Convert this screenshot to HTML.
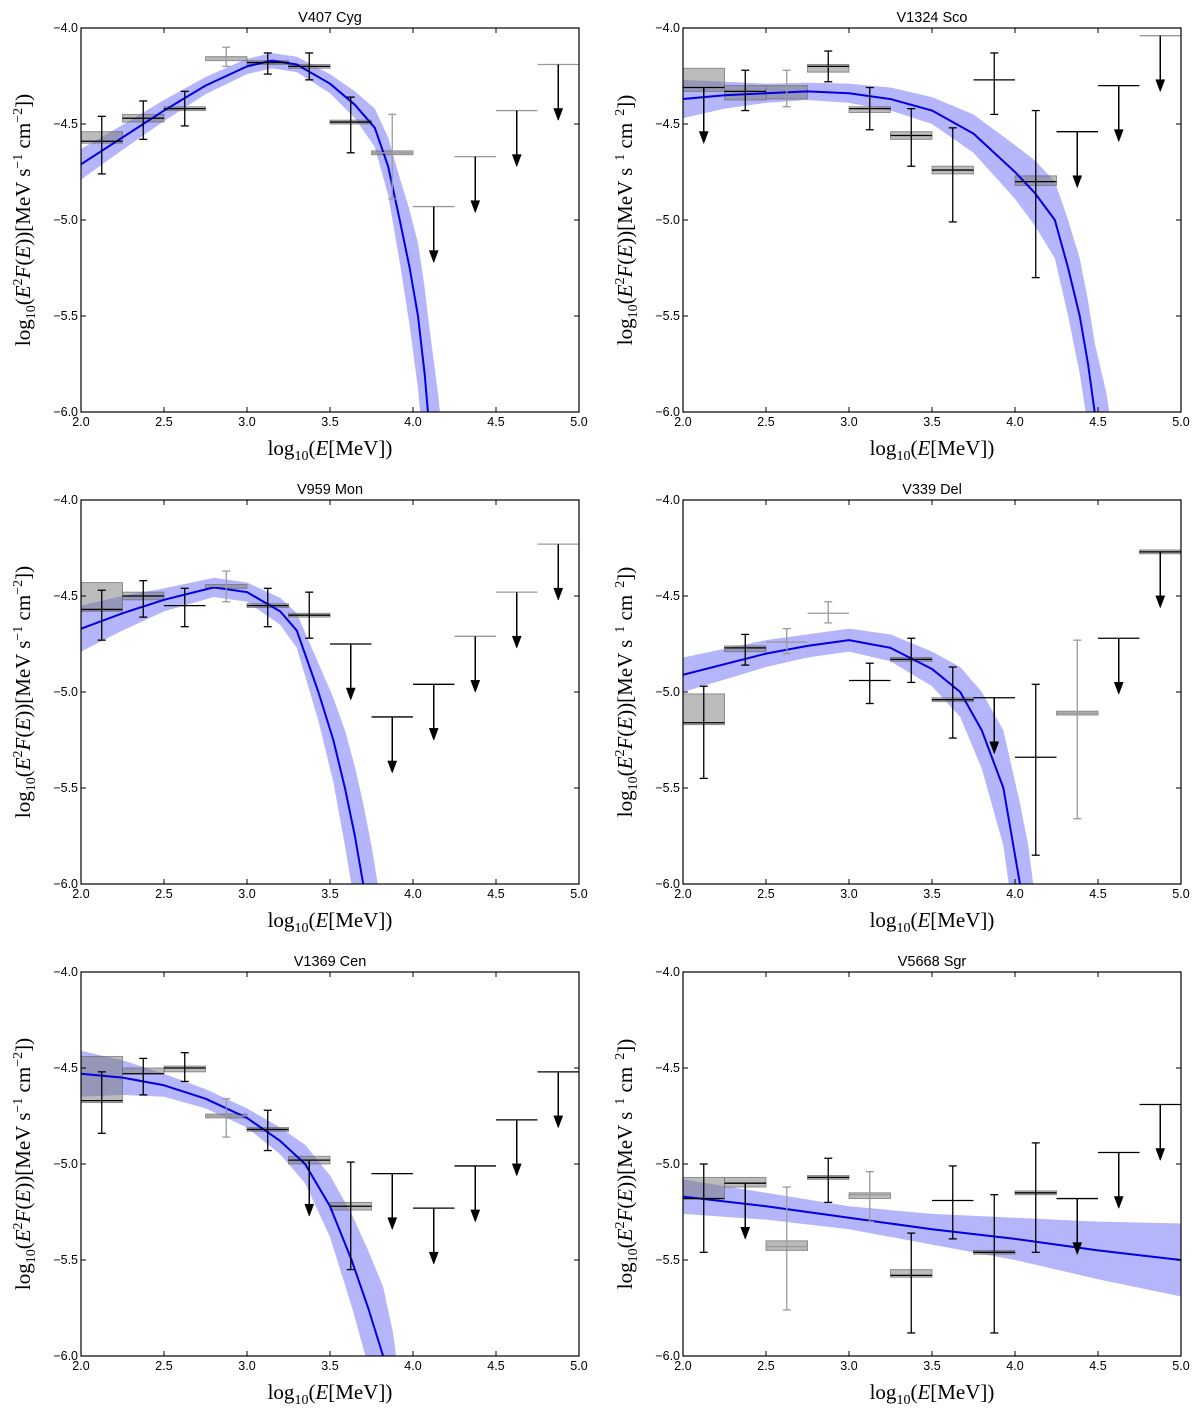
<!DOCTYPE html>
<html><head><meta charset="utf-8">
<style>
html,body{margin:0;padding:0;background:#fff;overflow:hidden;width:1200px;height:1418px;}
svg{display:block;}
.tick{font-family:"Liberation Sans",sans-serif;font-size:12.5px;fill:#000;}
.title{font-family:"Liberation Sans",sans-serif;font-size:14.5px;fill:#000;}
.lab{font-family:"Liberation Serif",serif;font-size:21px;fill:#000;}
</style></head>
<body>
<svg id="fig" width="1200" height="1418" viewBox="0 0 1200 1418" xmlns="http://www.w3.org/2000/svg"></svg>
<script>
// shared energy bins (log10 E)
const binLo = [2.0,2.25,2.5,2.75,3.0,3.25,3.5,3.75,4.0,4.25,4.5,4.75];
const binHi = [2.25,2.5,2.75,3.0,3.25,3.5,3.75,4.0,4.25,4.5,4.75,5.0];
const xTicks = ["2.0","2.5","3.0","3.5","4.0","4.5","5.0"];
const yTicks = ["-4.0","-4.5","-5.0","-5.5","-6.0"];
const titles = ["V407 Cyg","V1324 Sco","V959 Mon","V339 Del","V1369 Cen","V5668 Sgr"];

// Panel 1: V407 Cyg
const p1Y    = [-4.59,-4.47,-4.42,-4.15,-4.18,-4.20,-4.49,-4.65,-4.93,-4.67,-4.43,-4.19];
const p1ErrHi= [-4.46,-4.38,-4.33,-4.10,-4.13,-4.13,-4.36,-4.45,null,null,null,null];
const p1ErrLo= [-4.76,-4.58,-4.51,-4.20,-4.24,-4.27,-4.65,-4.89,null,null,null,null];
const p1BoxHi= [-4.54,-4.45,-4.41,-4.15,-4.17,-4.19,-4.48,-4.64,null,null,null,null];
const p1BoxLo= [-4.60,-4.49,-4.43,-4.17,-4.19,-4.21,-4.50,-4.66,null,null,null,null];
const p1UL   = [0,0,0,0,0,0,0,0,1,1,1,1];
const p1Gray = [0,0,0,1,0,0,0,1,1,1,1,1];
const p1CurveX=[2.0,2.25,2.5,2.75,3.0,3.15,3.3,3.5,3.65,3.77,3.85,3.92,3.98,4.03,4.07,4.09,4.15,4.25];
const p1CurveY=[-4.71,-4.57,-4.43,-4.30,-4.20,-4.17,-4.19,-4.29,-4.40,-4.52,-4.72,-5.0,-5.25,-5.5,-5.8,-6.0,-6.5,-7.5];
const p1Band =[0.08,0.065,0.055,0.045,0.04,0.04,0.04,0.05,0.07,0.1,0.15,0.22,0.3,0.38,0.45,0.5,0.6,0.8];

// Panel 2: V1324 Sco
const p2Y    = [-4.31,-4.33,-4.31,-4.20,-4.42,-4.56,-4.74,-4.27,-4.80,-4.54,-4.30,-4.04];
const p2ErrHi= [null,-4.22,-4.22,-4.12,-4.31,-4.42,-4.52,-4.13,-4.43,null,null,null];
const p2ErrLo= [null,-4.43,-4.41,-4.28,-4.53,-4.72,-5.01,-4.45,-5.30,null,null,null];
const p2BoxHi= [-4.21,-4.30,-4.30,-4.19,-4.41,-4.54,-4.72,null,-4.77,null,null,null];
const p2BoxLo= [-4.33,-4.375,-4.37,-4.23,-4.44,-4.58,-4.76,null,-4.82,null,null,null];
const p2UL   = [1,0,0,0,0,0,0,0,0,1,1,1];
const p2Gray = [0,0,1,0,0,0,0,0,0,0,0,1];
const p2CurveX=[2.0,2.25,2.5,2.75,3.0,3.25,3.5,3.75,4.0,4.12,4.24,4.32,4.39,4.44,4.48,4.55,4.7];
const p2CurveY=[-4.37,-4.35,-4.34,-4.33,-4.34,-4.37,-4.43,-4.55,-4.75,-4.86,-5.0,-5.25,-5.5,-5.75,-6.0,-6.3,-7.3];
const p2Band =[0.1,0.07,0.05,0.045,0.05,0.06,0.07,0.1,0.14,0.17,0.2,0.25,0.3,0.33,0.36,0.4,0.6];

// Panel 3: V959 Mon
const p3Y    = [-4.57,-4.50,-4.55,-4.45,-4.55,-4.60,-4.75,-5.13,-4.96,-4.71,-4.48,-4.23];
const p3ErrHi= [-4.47,-4.42,-4.46,-4.37,-4.46,-4.48,null,null,null,null,null,null];
const p3ErrLo= [-4.73,-4.61,-4.66,-4.53,-4.66,-4.72,null,null,null,null,null,null];
const p3BoxHi= [-4.43,-4.48,null,-4.44,-4.54,-4.59,null,null,null,null,null,null];
const p3BoxLo= [-4.58,-4.52,null,-4.46,-4.56,-4.61,null,null,null,null,null,null];
const p3UL   = [0,0,0,0,0,0,1,1,1,1,1,1];
const p3Gray = [0,0,0,1,0,0,0,0,0,1,1,1];
const p3CurveX=[2.0,2.25,2.5,2.8,3.0,3.2,3.3,3.43,3.52,3.59,3.65,3.7,3.75,3.9];
const p3CurveY=[-4.67,-4.59,-4.52,-4.455,-4.48,-4.58,-4.68,-5.0,-5.25,-5.5,-5.75,-6.0,-6.3,-7.3];
const p3Band =[0.12,0.09,0.06,0.05,0.05,0.07,0.09,0.15,0.22,0.3,0.36,0.42,0.5,0.7];

// Panel 4: V339 Del
const p4Y    = [-5.16,-4.77,-4.74,-4.59,-4.94,-4.83,-5.04,-5.03,-5.34,-5.11,-4.72,-4.27];
const p4ErrHi= [-4.97,-4.70,-4.67,-4.53,-4.85,-4.72,-4.87,null,-4.96,-4.73,null,null];
const p4ErrLo= [-5.45,-4.86,-4.80,-4.64,-5.06,-4.95,-5.24,null,-5.85,-5.66,null,null];
const p4BoxHi= [-5.01,-4.76,null,null,null,-4.82,-5.03,null,null,-5.10,null,-4.26];
const p4BoxLo= [-5.17,-4.79,null,null,null,-4.84,-5.05,null,null,-5.12,null,-4.28];
const p4UL   = [0,0,0,0,0,0,0,1,0,0,1,1];
const p4Gray = [0,0,1,1,0,0,0,0,0,1,0,0];
const p4CurveX=[2.0,2.5,2.75,3.0,3.25,3.5,3.67,3.8,3.93,3.98,4.03,4.08,4.2];
const p4CurveY=[-4.91,-4.80,-4.76,-4.73,-4.77,-4.88,-5.0,-5.2,-5.5,-5.75,-6.0,-6.3,-7.3];
const p4Band =[0.09,0.07,0.06,0.06,0.07,0.09,0.13,0.2,0.3,0.36,0.42,0.5,0.7];

// Panel 5: V1369 Cen
const p5Y    = [-4.67,-4.53,-4.50,-4.75,-4.82,-4.98,-5.22,-5.05,-5.23,-5.01,-4.77,-4.52];
const p5ErrHi= [-4.52,-4.45,-4.42,-4.66,-4.72,null,-4.99,null,null,null,null,null];
const p5ErrLo= [-4.84,-4.64,-4.57,-4.86,-4.93,null,-5.55,null,null,null,null,null];
const p5BoxHi= [-4.44,-4.50,-4.49,-4.74,-4.81,-4.96,-5.20,null,null,null,null,null];
const p5BoxLo= [-4.68,-4.53,-4.52,-4.76,-4.83,-5.00,-5.24,null,null,null,null,null];
const p5UL   = [0,0,0,0,0,1,0,1,1,1,1,1];
const p5Gray = [0,0,0,1,0,0,0,0,0,0,0,0];
const p5CurveX=[2.0,2.25,2.5,2.75,3.0,3.2,3.35,3.5,3.63,3.73,3.82,3.88,4.0];
const p5CurveY=[-4.53,-4.55,-4.59,-4.66,-4.76,-4.88,-5.0,-5.22,-5.5,-5.75,-6.0,-6.3,-7.3];
const p5Band =[0.12,0.09,0.06,0.05,0.05,0.07,0.1,0.16,0.24,0.3,0.36,0.42,0.6];

// Panel 6: V5668 Sgr
const p6Y    = [-5.18,-5.10,-5.43,-5.07,-5.16,-5.58,-5.19,-5.46,-5.15,-5.18,-4.94,-4.69];
const p6ErrHi= [-5.00,null,-5.12,-4.97,-5.04,-5.36,-5.01,-5.16,-4.89,null,null,null];
const p6ErrLo= [-5.46,null,-5.76,-5.20,-5.30,-5.88,-5.39,-5.88,-5.46,null,null,null];
const p6BoxHi= [-5.07,-5.07,-5.40,-5.06,-5.15,-5.55,null,-5.45,-5.14,null,null,null];
const p6BoxLo= [-5.18,-5.12,-5.45,-5.08,-5.18,-5.59,null,-5.47,-5.16,null,null,null];
const p6UL   = [0,1,0,0,0,0,0,0,0,1,1,1];
const p6Gray = [0,0,1,0,1,0,0,0,0,0,0,0];
const p6CurveX=[2.0,2.5,3.0,3.5,4.0,4.5,5.0];
const p6CurveY=[-5.17,-5.22,-5.28,-5.34,-5.39,-5.45,-5.50];
const p6Band =[0.09,0.07,0.06,0.08,0.11,0.15,0.19];

const panels = [
 {Y:p1Y,EH:p1ErrHi,EL:p1ErrLo,BH:p1BoxHi,BL:p1BoxLo,UL:p1UL,G:p1Gray,CX:p1CurveX,CY:p1CurveY,B:p1Band},
 {Y:p2Y,EH:p2ErrHi,EL:p2ErrLo,BH:p2BoxHi,BL:p2BoxLo,UL:p2UL,G:p2Gray,CX:p2CurveX,CY:p2CurveY,B:p2Band},
 {Y:p3Y,EH:p3ErrHi,EL:p3ErrLo,BH:p3BoxHi,BL:p3BoxLo,UL:p3UL,G:p3Gray,CX:p3CurveX,CY:p3CurveY,B:p3Band},
 {Y:p4Y,EH:p4ErrHi,EL:p4ErrLo,BH:p4BoxHi,BL:p4BoxLo,UL:p4UL,G:p4Gray,CX:p4CurveX,CY:p4CurveY,B:p4Band},
 {Y:p5Y,EH:p5ErrHi,EL:p5ErrLo,BH:p5BoxHi,BL:p5BoxLo,UL:p5UL,G:p5Gray,CX:p5CurveX,CY:p5CurveY,B:p5Band},
 {Y:p6Y,EH:p6ErrHi,EL:p6ErrLo,BH:p6BoxHi,BL:p6BoxLo,UL:p6UL,G:p6Gray,CX:p6CurveX,CY:p6CurveY,B:p6Band}
];

const NS="http://www.w3.org/2000/svg";
const svg=document.getElementById('fig');
function mk(tag,attrs,parent){const e=document.createElementNS(NS,tag);for(const k in attrs)e.setAttribute(k,attrs[k]);(parent||svg).appendChild(e);return e;}

const colX=[81,683], rowY=[28,500,972], W=498, H=384;
panels.forEach((p,i)=>{
  const x0=colX[i%2], y0=rowY[Math.floor(i/2)];
  const sx=v=>x0+(v-2)/3*W;
  const sy=v=>y0+(-4-v)/2*H;
  const g=mk('g',{});
  
  
  const cid='clip'+i;
  const cp=mk('clipPath',{id:cid},g); mk('rect',{x:x0,y:y0,width:W,height:H},cp);
  const plot=mk('g',{'clip-path':'url(#'+cid+')'},g);
  // band
  let up=[],lo=[];
  p.CX.forEach((x,k)=>{up.push(sx(x)+','+sy(p.CY[k]+p.B[k]));lo.unshift(sx(x)+','+sy(p.CY[k]-p.B[k]));});
  const band=mk('polygon',{points:up.concat(lo).join(' '),fill:'rgba(70,70,245,0.4)',stroke:'none'},plot);
  
  
  // boxes
  binLo.forEach((b,k)=>{
    if(p.BH[k]!==null){
      const r=mk('rect',{x:sx(b),y:sy(p.BH[k]),width:sx(binHi[k])-sx(b),height:Math.max(2,sy(p.BL[k])-sy(p.BH[k])),fill:'rgba(120,120,120,0.5)',stroke:'rgba(110,110,110,0.7)','stroke-width':1},plot);
      
      
    }
  });
  // curve
  const line=mk('polyline',{points:p.CX.map((x,k)=>sx(x)+','+sy(p.CY[k])).join(' '),fill:'none',stroke:'#0000e0','stroke-width':2,'stroke-linejoin':'round'},plot);
  
  
  // points
  binLo.forEach((b,k)=>{
    const col=p.G[k]?'#9a9a9a':'#000';
    const pg=mk('g',{stroke:col,'stroke-width':1.3,fill:'none'},plot);
    
    
    const xc=sx((b+binHi[k])/2), yv=sy(p.Y[k]);
    mk('line',{x1:sx(b),x2:sx(binHi[k]),y1:yv,y2:yv},pg);
    if(p.UL[k]){
      mk('line',{x1:xc,x2:xc,y1:yv,y2:yv+46,stroke:'#000','stroke-width':1.5},pg);
      mk('polygon',{points:(xc-4.5)+','+(yv+44)+' '+(xc+4.5)+','+(yv+44)+' '+xc+','+(yv+56),fill:'#000',stroke:'#000','stroke-width':0.5},pg);
    } else if(p.EH[k]!==null){
      const a=sy(p.EH[k]), c=sy(p.EL[k]);
      mk('line',{x1:xc,x2:xc,y1:a,y2:c},pg);
      mk('line',{x1:xc-4,x2:xc+4,y1:a,y2:a},pg);
      mk('line',{x1:xc-4,x2:xc+4,y1:c,y2:c},pg);
    }
  });
  // axes frame
  const fr=mk('rect',{x:x0,y:y0,width:W,height:H,fill:'none',stroke:'#000','stroke-width':1.2},g);
  
  
  xTicks.forEach(t=>{
    const v=parseFloat(t), x=sx(v);
    mk('line',{x1:x,x2:x,y1:y0+H,y2:y0+H-5,stroke:'#000'},g);
    mk('line',{x1:x,x2:x,y1:y0,y2:y0+5,stroke:'#000'},g);
    const tx=mk('text',{x:x,y:y0+H+14,'text-anchor':'middle',class:'tick'},g);
    tx.textContent=t;
    
    
  });
  yTicks.forEach(t=>{
    const v=parseFloat(t), y=sy(v);
    mk('line',{x1:x0,x2:x0+5,y1:y,y2:y,stroke:'#000'},g);
    mk('line',{x1:x0+W,x2:x0+W-5,y1:y,y2:y,stroke:'#000'},g);
    const tx=mk('text',{x:x0-3,y:y+4,'text-anchor':'end',class:'tick'},g);
    tx.textContent=t.replace('-','\u2212');
    
    
  });
  const ti=mk('text',{x:x0+W/2,y:y0-6,'text-anchor':'middle',class:'title'},g);
  ti.textContent=titles[i];
  
  
  const xl=mk('text',{x:x0+W/2,y:y0+H+43,'text-anchor':'middle',class:'lab'},g);
  xl.innerHTML='log<tspan font-size="14" dy="5">10</tspan><tspan dy="-5">(</tspan><tspan font-style="italic">E</tspan>[MeV])';
  
  
  const right=(i%2===1);
  const yl=mk('text',{x:0,y:0,'text-anchor':'middle',class:'lab',transform:'translate('+(x0-51)+','+(y0+H/2)+') rotate(-90)'},g);
  yl.innerHTML='log<tspan font-size="14" dy="5">10</tspan><tspan dy="-5">(</tspan><tspan font-style="italic">E</tspan><tspan font-size="14" dy="-8">2</tspan><tspan font-style="italic" dy="8">F</tspan>(<tspan font-style="italic">E</tspan>))[MeV s<tspan font-size="14" dy="-8">'+(right?'\u00a0\u00a01':'\u22121')+'</tspan><tspan dy="8"> cm</tspan><tspan font-size="14" dy="-8">'+(right?'\u00a0\u00a02':'\u22122')+'</tspan><tspan dy="8">])</tspan>';
  
  
});
</script>
</body></html>
